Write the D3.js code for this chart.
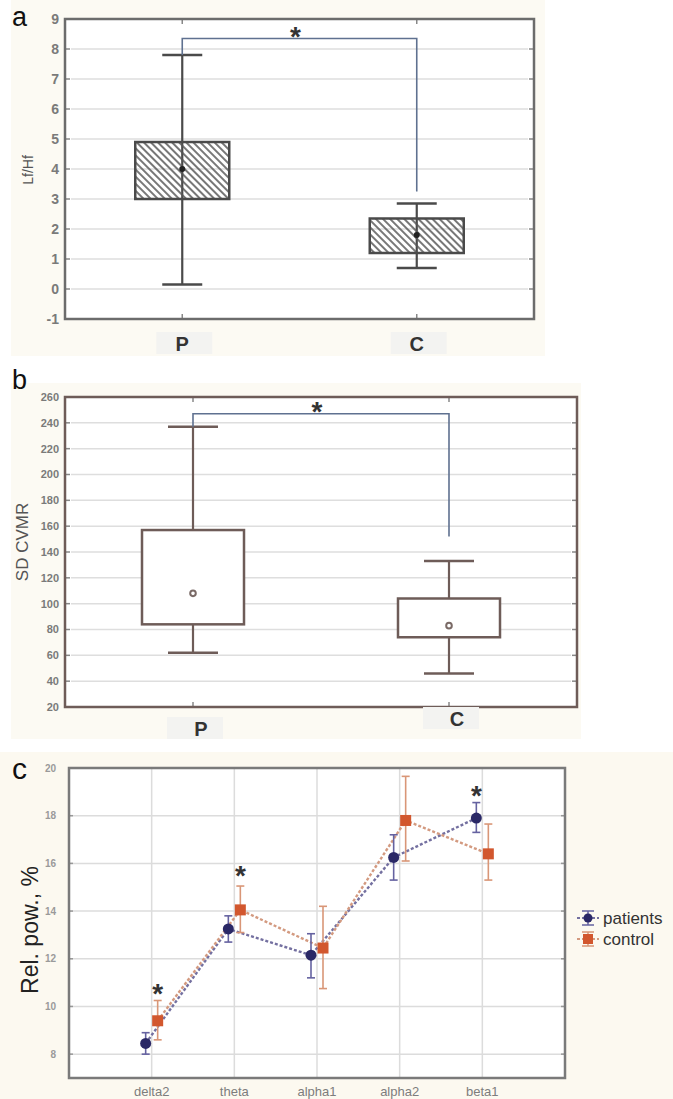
<!DOCTYPE html>
<html>
<head>
<meta charset="utf-8">
<script src="https://d3js.org/d3.v7.min.js"></script>
<style>
  body { margin: 0; background: #fff; }
  svg { display: block; font-family: "Liberation Sans", Arial, sans-serif; }
</style>
</head>
<body>
<div id="graph"></div>
<script>

// panel a: Lf/Hf box plot
const groups = ["P", "C"];
const lfhfQ1 = [3.0, 1.2];
const lfhfQ3 = [4.9, 2.35];
const lfhfMean = [4.0, 1.8];
const lfhfMin = [0.15, 0.7];
const lfhfMax = [7.8, 2.85];
const lfhfTicks = [-1, 0, 1, 2, 3, 4, 5, 6, 7, 8, 9];
const lfhfSig = [8.35, 3.25]; // bracket top, right leg end

// panel b: SD CVMR box plot
const cvmrQ1 = [84, 74];
const cvmrQ3 = [157, 104];
const cvmrMean = [108, 83];
const cvmrMin = [62, 46];
const cvmrMax = [237, 133];
const cvmrTicks = [20, 40, 60, 80, 100, 120, 140, 160, 180, 200, 220, 240, 260];
const cvmrSig = [247, 152];

// panel c: relative power
const bands = ["delta2", "theta", "alpha1", "alpha2", "beta1"];
const patMean = [8.45, 13.25, 12.15, 16.25, 17.9];
const patLo = [8.0, 12.7, 11.2, 15.3, 17.3];
const patHi = [8.9, 13.8, 13.05, 17.2, 18.55];
const ctlMean = [9.4, 14.05, 12.45, 17.8, 16.4];
const ctlLo = [8.6, 13.1, 10.75, 16.1, 15.3];
const ctlHi = [10.25, 15.05, 14.2, 19.65, 17.65];
const starBands = ["delta2", "theta", "beta1"];
const starLevel = [10.8, 15.75, 19.1];
const powTicks = [8, 10, 12, 14, 16, 18, 20];
const seriesNames = ["patients", "control"];

var svg = d3.select("#graph").append("svg")
    .attr("width", 673)
    .attr("height", 1099);

// hatch for panel a boxes
svg.append("defs").append("pattern")
    .attr("id", "hatch")
    .attr("patternUnits", "userSpaceOnUse")
    .attr("width", 5)
    .attr("height", 5)
    .attr("patternTransform", "rotate(-45)")
  .append("line")
    .attr("x1", 1).attr("y1", 0)
    .attr("x2", 1).attr("y2", 5)
    .attr("stroke", "#555")
    .attr("stroke-width", 1.6);

// faint paper tint behind the panels
svg.append("rect").attr("x", 11).attr("y", 0).attr("width", 534).attr("height", 356).attr("fill", "#fcfaf3");
svg.append("rect").attr("x", 11).attr("y", 383).attr("width", 570).attr("height", 356).attr("fill", "#fcfaf3");
svg.append("rect").attr("x", 0).attr("y", 752).attr("width", 673).attr("height", 347).attr("fill", "#fcf9f0");

function star(g, x, y) {
  g.append("text")
    .attr("x", x)
    .attr("y", y + 16)
    .attr("text-anchor", "middle")
    .attr("font-size", "28px")
    .attr("font-weight", "bold")
    .attr("fill", "#333")
    .text("*");
}

function boxPanel(opt) {
  var g = svg.append("g");

  var x = d3.scalePoint()
      .domain(groups)
      .range([opt.left, opt.right])
      .padding(0.5);

  var y = d3.scaleLinear()
      .domain(opt.domain)
      .range([opt.bottom, opt.top]);

  g.append("rect")
    .attr("x", opt.left).attr("y", opt.top)
    .attr("width", opt.right - opt.left)
    .attr("height", opt.bottom - opt.top)
    .attr("fill", "#fff");

  // grid
  g.selectAll(".grid")
    .data(opt.ticks.slice(1, -1))
    .enter().append("line")
    .attr("x1", opt.left + 6).attr("x2", opt.right - 6)
    .attr("y1", d => y(d)).attr("y2", d => y(d))
    .attr("stroke", "#dedede")
    .attr("stroke-width", 1.5);

  // little ticks on both frame edges
  [opt.left, opt.right].forEach(function(ex, k) {
    g.selectAll(null)
      .data(opt.ticks)
      .enter().append("line")
      .attr("x1", ex).attr("x2", k == 0 ? ex + 5 : ex - 5)
      .attr("y1", d => y(d)).attr("y2", d => y(d))
      .attr("stroke", "#888").attr("stroke-width", 1.5);
  });
  g.selectAll(null)
    .data(groups)
    .enter().append("line")
    .attr("x1", d => x(d)).attr("x2", d => x(d))
    .attr("y1", opt.top).attr("y2", opt.top + 5)
    .attr("stroke", "#888").attr("stroke-width", 1.5);
  g.selectAll(null)
    .data(groups)
    .enter().append("line")
    .attr("x1", d => x(d)).attr("x2", d => x(d))
    .attr("y1", opt.bottom).attr("y2", opt.bottom - 5)
    .attr("stroke", "#888").attr("stroke-width", 1.5);

  // y tick labels
  g.selectAll(".ylab")
    .data(opt.ticks)
    .enter().append("text")
    .attr("x", opt.left - 6)
    .attr("y", d => y(d))
    .attr("dy", "0.35em")
    .attr("text-anchor", "end")
    .attr("font-size", opt.tickFont)
    .attr("font-weight", "bold")
    .attr("fill", "#7a7a7a")
    .text(d => d);

  // whiskers
  groups.forEach(function(name, i) {
    var cx = x(name);
    g.append("line")
      .attr("x1", cx).attr("x2", cx)
      .attr("y1", y(opt.max[i])).attr("y2", y(opt.min[i]))
      .attr("stroke", opt.stroke).attr("stroke-width", 2.2);
    [opt.max[i], opt.min[i]].forEach(function(v) {
      g.append("line")
        .attr("x1", cx - opt.cap / 2).attr("x2", cx + opt.cap / 2)
        .attr("y1", y(v)).attr("y2", y(v))
        .attr("stroke", opt.stroke).attr("stroke-width", 2.5);
    });
    g.append("rect")
      .attr("x", cx - opt.boxW / 2)
      .attr("y", y(opt.q3[i]))
      .attr("width", opt.boxW)
      .attr("height", y(opt.q1[i]) - y(opt.q3[i]))
      .attr("fill", opt.fill)
      .attr("stroke", opt.stroke)
      .attr("stroke-width", 2.5);
    if (opt.hollow) {
      g.append("circle")
        .attr("cx", cx).attr("cy", y(opt.mean[i])).attr("r", 2.8)
        .attr("fill", "#fff").attr("stroke", "#7a6a66").attr("stroke-width", 2);
    } else {
      g.append("circle")
        .attr("cx", cx).attr("cy", y(opt.mean[i])).attr("r", 3)
        .attr("fill", "#222");
    }
  });

  // significance bracket
  var xp = x(groups[0]), xc = x(groups[1]);
  g.append("path")
    .attr("d", "M" + xp + "," + y(opt.max[0]) +
               "V" + y(opt.sig[0]) + "H" + xc + "V" + y(opt.sig[1]))
    .attr("fill", "none")
    .attr("stroke", "#5f7190")
    .attr("stroke-width", 1.6);
  star(g, (xp + xc) / 2 + opt.starDx, y(opt.sig[0]) - 9);

  // frame
  g.append("rect")
    .attr("x", opt.left).attr("y", opt.top)
    .attr("width", opt.right - opt.left)
    .attr("height", opt.bottom - opt.top)
    .attr("fill", "none")
    .attr("stroke", opt.frame)
    .attr("stroke-width", 2.5);

  // category labels with the faint grey patches behind them
  groups.forEach(function(name, i) {
    g.append("rect")
      .attr("x", x(name) - 26).attr("y", opt.labY[i] - 19)
      .attr("width", 56).attr("height", 22)
      .attr("fill", "#f3f3f1");
    g.append("text")
      .attr("x", x(name) + opt.labDx[i])
      .attr("y", opt.labY[i])
      .attr("text-anchor", "middle")
      .attr("font-size", opt.labFont)
      .attr("font-weight", "bold")
      .attr("fill", "#333")
      .text(name);
  });

  g.append("text")
    .attr("transform", "translate(" + opt.yLabX + "," + opt.yLabY + ") rotate(-90)")
    .attr("text-anchor", "middle")
    .attr("font-size", opt.yLabFont)
    .attr("fill", "#555")
    .text(opt.yLabel);

  g.append("text")
    .attr("x", opt.letterX).attr("y", opt.letterY)
    .attr("font-size", "27px")
    .attr("fill", "#111")
    .text(opt.letter);
}

boxPanel({
  left: 65, right: 534, top: 19, bottom: 319,
  domain: [-1, 9], ticks: lfhfTicks, tickFont: "14px",
  q1: lfhfQ1, q3: lfhfQ3, mean: lfhfMean, min: lfhfMin, max: lfhfMax,
  sig: lfhfSig, starDx: -4,
  boxW: 94, cap: 40, fill: "url(#hatch)", stroke: "#4a4a4a", frame: "#6c6c6c",
  hollow: false,
  labY: [351, 351], labDx: [0, 0], labFont: "20px",
  yLabel: "Lf/Hf", yLabX: 33, yLabY: 170, yLabFont: "14px",
  letter: "a", letterX: 12, letterY: 26
});

boxPanel({
  left: 65, right: 577, top: 397, bottom: 707,
  domain: [20, 260], ticks: cvmrTicks, tickFont: "11px",
  q1: cvmrQ1, q3: cvmrQ3, mean: cvmrMean, min: cvmrMin, max: cvmrMax,
  sig: cvmrSig, starDx: -4,
  boxW: 102, cap: 50, fill: "#fff", stroke: "#6e5c58", frame: "#6e5c58",
  hollow: true,
  labY: [736, 726], labDx: [8, 8], labFont: "20px",
  yLabel: "SD CVMR", yLabX: 28, yLabY: 542, yLabFont: "17px",
  letter: "b", letterX: 12, letterY: 389
});

// panel c
(function() {
  var left = 69, right = 565, top = 768, bottom = 1078;
  var g = svg.append("g");

  var x = d3.scalePoint()
      .domain(bands)
      .range([left, right])
      .padding(1);

  var off = d3.scalePoint()
      .domain(seriesNames)
      .range([-6, 6]);

  var y = d3.scaleLinear()
      .domain([7, 20])
      .range([bottom, top]);

  g.append("rect")
    .attr("x", left).attr("y", top)
    .attr("width", right - left).attr("height", bottom - top)
    .attr("fill", "#fff");

  g.selectAll(null)
    .data(powTicks.slice(0, -1))
    .enter().append("line")
    .attr("x1", left).attr("x2", right)
    .attr("y1", d => y(d)).attr("y2", d => y(d))
    .attr("stroke", "#dcdcdc").attr("stroke-width", 1.5);

  g.selectAll(null)
    .data(bands)
    .enter().append("line")
    .attr("x1", d => x(d)).attr("x2", d => x(d))
    .attr("y1", top).attr("y2", bottom)
    .attr("stroke", "#dcdcdc").attr("stroke-width", 1.5);

  g.selectAll(null)
    .data(powTicks)
    .enter().append("text")
    .attr("x", left - 13)
    .attr("y", d => y(d))
    .attr("dy", "0.35em")
    .attr("text-anchor", "end")
    .attr("font-size", "10px")
    .attr("font-weight", "bold")
    .attr("fill", "#9a9a9a")
    .text(d => d);

  [left, right].forEach(function(ex, k) {
    g.selectAll(null)
      .data(powTicks)
      .enter().append("line")
      .attr("x1", ex).attr("x2", k == 0 ? ex + 4 : ex - 4)
      .attr("y1", d => y(d)).attr("y2", d => y(d))
      .attr("stroke", "#999").attr("stroke-width", 1.5);
  });

  g.selectAll(null)
    .data(bands)
    .enter().append("text")
    .attr("x", d => x(d))
    .attr("y", bottom + 18)
    .attr("text-anchor", "middle")
    .attr("font-size", "13px")
    .attr("fill", "#7d7d7d")
    .text(d => d);

  var series = [
    { name: "patients", mean: patMean, lo: patLo, hi: patHi,
      line: "#7470a0", bar: "#6562a0", mark: "#2a2866" },
    { name: "control", mean: ctlMean, lo: ctlLo, hi: ctlHi,
      line: "#d39a80", bar: "#d99677", mark: "#d2572e" }
  ];

  series.forEach(function(s) {
    var pts = bands.map((b, i) => [x(b) + off(s.name), y(s.mean[i])]);
    g.append("path")
      .attr("d", d3.line()(pts))
      .attr("fill", "none")
      .attr("stroke", s.line)
      .attr("stroke-width", 2.4)
      .attr("stroke-dasharray", "3,2");
  });

  series.forEach(function(s) {
    bands.forEach(function(b, i) {
      var cx = x(b) + off(s.name);
      g.append("line")
        .attr("x1", cx).attr("x2", cx)
        .attr("y1", y(s.hi[i])).attr("y2", y(s.lo[i]))
        .attr("stroke", s.bar).attr("stroke-width", 1.6);
      [s.hi[i], s.lo[i]].forEach(function(v) {
        g.append("line")
          .attr("x1", cx - 4).attr("x2", cx + 4)
          .attr("y1", y(v)).attr("y2", y(v))
          .attr("stroke", s.bar).attr("stroke-width", 1.6);
      });
      if (s.name == "patients") {
        g.append("circle")
          .attr("cx", cx).attr("cy", y(s.mean[i])).attr("r", 5.5)
          .attr("fill", s.mark);
      } else {
        g.append("rect")
          .attr("x", cx - 5.5).attr("y", y(s.mean[i]) - 5.5)
          .attr("width", 11).attr("height", 11)
          .attr("fill", s.mark);
      }
    });
  });

  // stars go over whichever series reaches higher at that band
  starBands.forEach(function(b, k) {
    var i = bands.indexOf(b);
    var who = patHi[i] > ctlHi[i] ? "patients" : "control";
    star(g, x(b) + off(who), y(starLevel[k]));
  });

  g.append("rect")
    .attr("x", left).attr("y", top)
    .attr("width", right - left).attr("height", bottom - top)
    .attr("fill", "none")
    .attr("stroke", "#7a7a7a")
    .attr("stroke-width", 2.5);

  // legend
  var lg = g.append("g").attr("transform", "translate(588,918)");
  series.forEach(function(s, i) {
    var ly = i * 21;
    lg.append("line")
      .attr("x1", -11).attr("x2", 11).attr("y1", ly).attr("y2", ly)
      .attr("stroke", s.line).attr("stroke-width", 2).attr("stroke-dasharray", "3,2");
    lg.append("line")
      .attr("x1", 0).attr("x2", 0).attr("y1", ly - 7).attr("y2", ly + 7)
      .attr("stroke", s.bar).attr("stroke-width", 1.5);
    [ly - 7, ly + 7].forEach(function(v) {
      lg.append("line")
        .attr("x1", -6).attr("x2", 6).attr("y1", v).attr("y2", v)
        .attr("stroke", s.bar).attr("stroke-width", 1.5);
    });
    if (s.name == "patients") {
      lg.append("circle").attr("cx", 0).attr("cy", ly).attr("r", 4.5).attr("fill", s.mark);
    } else {
      lg.append("rect").attr("x", -5).attr("y", ly - 5).attr("width", 10).attr("height", 10).attr("fill", s.mark);
    }
    lg.append("text")
      .attr("x", 15)
      .attr("y", ly + 6)
      .attr("font-size", "17px")
      .attr("fill", "#333")
      .text(s.name);
  });

  g.append("text")
    .attr("transform", "translate(38,930) rotate(-90)")
    .attr("text-anchor", "middle")
    .attr("font-size", "23px")
    .attr("fill", "#222")
    .text("Rel. pow., %");

  g.append("text")
    .attr("x", 12).attr("y", 779)
    .attr("font-size", "30px")
    .attr("fill", "#111")
    .text("c");
})();

</script>
</body>
</html>
